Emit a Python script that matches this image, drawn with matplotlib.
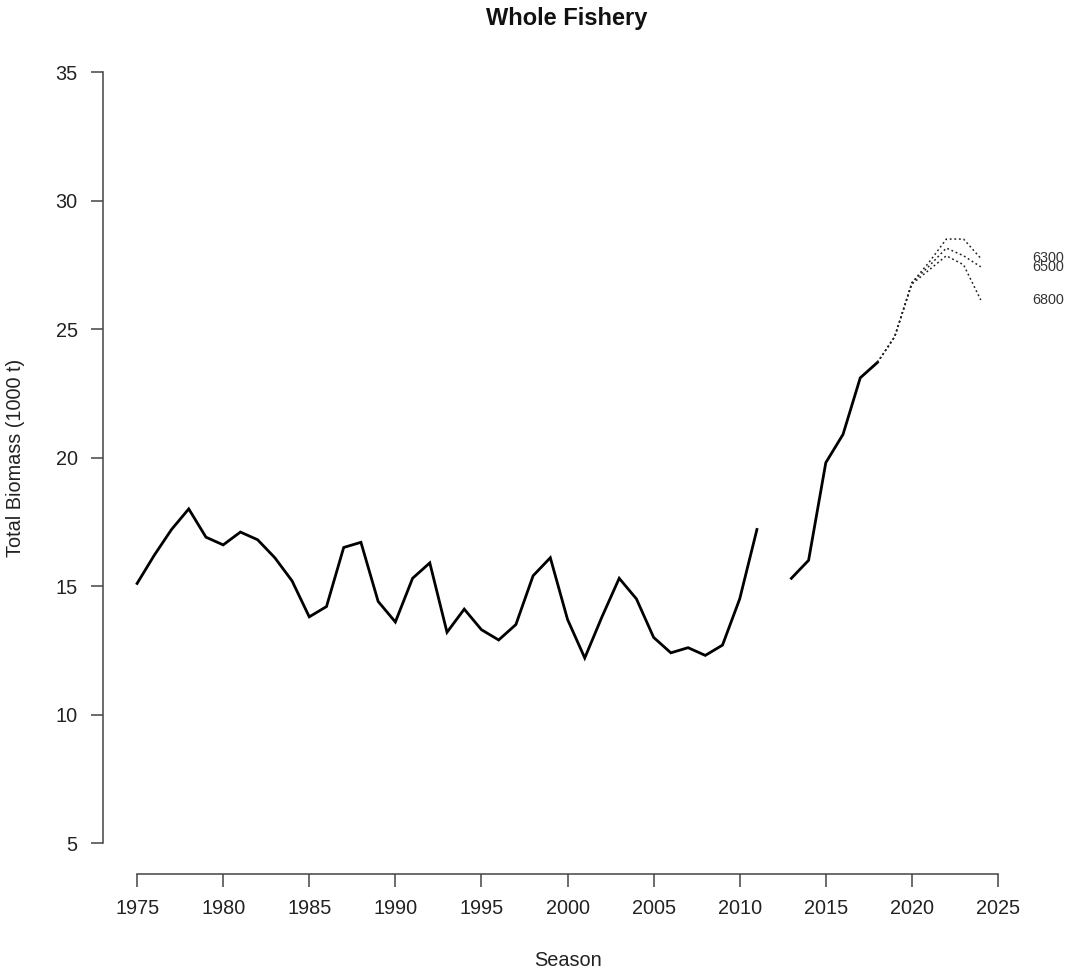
import numpy as np
import matplotlib
matplotlib.use("Agg")
import matplotlib.pyplot as plt

plt.rcParams["font.family"] = ["Liberation Sans", "DejaVu Sans"]

# Estimated total biomass (1000 t) by season; 2012 has no estimate
seasons = list(range(1975, 2019))
biomass = [15.1, 16.2, 17.2, 18.0, 16.9, 16.6, 17.1, 16.8, 16.1, 15.2,
           13.8, 14.2, 16.5, 16.7, 14.4, 13.6, 15.3, 15.9, 13.2, 14.1,
           13.3, 12.9, 13.5, 15.4, 16.1, 13.7, 12.2, 13.8, 15.3, 14.5,
           13.0, 12.4, 12.6, 12.3, 12.7, 14.5, 17.2, np.nan, 15.3, 16.0,
           19.8, 20.9, 23.1, 23.7]

# Projections under alternative catch scenarios (t)
proj_seasons = [2018, 2019, 2020, 2021, 2022, 2023, 2024]
scenario_catches = ["6300", "6500", "6800"]
proj_6300 = [23.7, 24.7, 26.8, 27.6, 28.5, 28.5, 27.75]
proj_6500 = [23.7, 24.7, 26.8, 27.45, 28.15, 27.85, 27.42]
proj_6800 = [23.7, 24.7, 26.75, 27.3, 27.85, 27.5, 26.13]
projections = [proj_6300, proj_6500, proj_6800]

x_ticks = list(range(1975, 2030, 5))
y_ticks = list(range(5, 40, 5))

fig = plt.figure(figsize=(10.66, 9.69), dpi=100)
ax = fig.add_axes([0.0963, 0.0982, 0.9685 - 0.0963, 0.9575 - 0.0982])

ax.plot(seasons, biomass, color="black", lw=2.0, solid_joinstyle="miter")
for vals, lab in zip(projections, scenario_catches):
    ax.plot(proj_seasons, vals, color="#222222", lw=1.1, linestyle=(0, (1.2, 1.8)))
    ax.text(2027.0, vals[-1], lab, fontsize=10.4, color="#333333",
            ha="left", va="center", clip_on=False)

ax.set_xlim(1973.0, 2027.0)
ax.set_ylim(3.8, 36.2)
ax.set_xticks(x_ticks)
ax.set_yticks(y_ticks)

for side in ("top", "right"):
    ax.spines[side].set_visible(False)
ax.spines["left"].set_bounds(5, 35)
ax.spines["bottom"].set_bounds(1975, 2025)
for side in ("left", "bottom"):
    ax.spines[side].set_color("#444444")
    ax.spines[side].set_linewidth(1.1)

ax.tick_params(axis="both", direction="out", length=9, width=1.1,
               color="#444444", labelsize=14.3, labelcolor="#222222", pad=9)

ax.set_xlabel("Season", fontsize=14.3, color="#222222", labelpad=24)
ax.set_ylabel("Total Biomass (1000 t)", fontsize=14.3, color="#222222", labelpad=22)
fig.suptitle("Whole Fishery", fontsize=17, fontweight="bold", color="#111111",
             x=0.532, y=0.993, va="top")

fig.savefig("out.png", dpi=100, facecolor="white")
